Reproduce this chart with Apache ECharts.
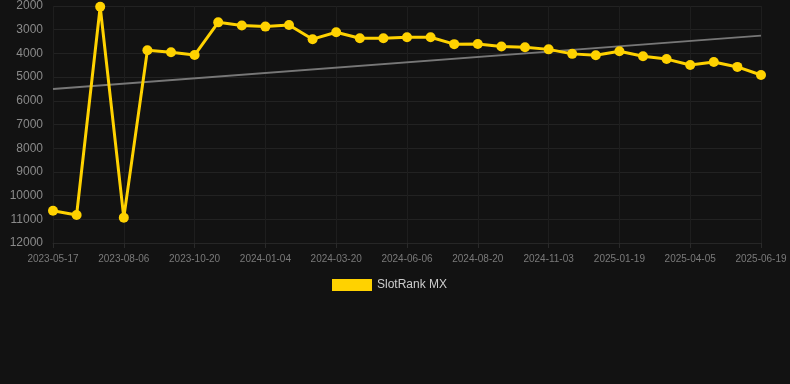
<!DOCTYPE html>
<html>
<head>
<meta charset="utf-8">
<script src="https://cdn.jsdelivr.net/npm/echarts@6/dist/echarts.min.js"></script>
<style>
html,body{margin:0;padding:0;background:#121212;}
#chart{width:790px;height:384px;}
</style>
</head>
<body>
<div id="chart"></div>
<script>
var categories = [
  "2023-05-17","2023-06-13","2023-07-10","2023-08-06","2023-08-31","2023-09-25",
  "2023-10-20","2023-11-14","2023-12-09","2024-01-04","2024-01-29","2024-02-23",
  "2024-03-20","2024-04-15","2024-05-11","2024-06-06","2024-07-01","2024-07-26",
  "2024-08-20","2024-09-14","2024-10-09","2024-11-03","2024-11-29","2024-12-24",
  "2025-01-19","2025-02-13","2025-03-10","2025-04-05","2025-04-30","2025-05-25",
  "2025-06-19"
];
var rankValues = [
  10640, 10820, 2030, 10930, 3870, 3950,
  4070, 2690, 2820, 2870, 2800, 3400,
  3110, 3360, 3360, 3320, 3320, 3610,
  3600, 3710, 3740, 3830, 4020, 4080,
  3910, 4120, 4240, 4490, 4360, 4570,
  4910
];
var trendStart = 5500;
var trendEnd = 3250;
var yTicks = [2000, 12000, 1000];

var trendValues = categories.map(function (c, i) {
  if (i === 0) return trendStart;
  if (i === categories.length - 1) return trendEnd;
  return null;
});

var chart = echarts.init(document.getElementById('chart'), null, {renderer: 'canvas'});
chart.setOption({
  backgroundColor: '#121212',
  animation: false,
  grid: {left: 53, right: 29, top: 6, bottom: 141, containLabel: false},
  legend: {
    data: [{name: 'SlotRank MX', icon: 'rect'}],
    top: 274,
    left: 327,
    itemWidth: 40,
    itemHeight: 12,
    itemGap: 10,
    textStyle: {color: '#cccccc', fontSize: 12, fontFamily: 'Liberation Sans, Arial, sans-serif'}
  },
  xAxis: {
    type: 'category',
    data: categories,
    boundaryGap: false,
    axisLine: {show: true, lineStyle: {color: '#262626'}},
    axisTick: {show: true, interval: 2, length: 5, lineStyle: {color: '#2a2a2a'}},
    axisLabel: {
      interval: 2, color: '#7a7a7a', fontSize: 10, margin: 11,
      fontFamily: 'Liberation Sans, Arial, sans-serif'
    },
    splitLine: {show: true, interval: 2, lineStyle: {color: '#1e1e1e', width: 1}}
  },
  yAxis: {
    type: 'value',
    inverse: true,
    min: yTicks[0],
    max: yTicks[1],
    interval: yTicks[2],
    axisLine: {show: false},
    axisTick: {show: false},
    axisLabel: {
      color: '#8a8a8a', fontSize: 12, margin: 10,
      fontFamily: 'Liberation Sans, Arial, sans-serif',
      formatter: function (v) { return String(v); }
    },
    splitLine: {show: true, lineStyle: {color: '#222222', width: 1}}
  },
  series: [
    {
      name: 'SlotRank MX',
      type: 'line',
      data: rankValues,
      symbol: 'circle',
      symbolSize: 10,
      itemStyle: {color: '#ffd200'},
      lineStyle: {color: '#ffd200', width: 3},
      z: 3
    },
    {
      name: 'trend',
      type: 'line',
      data: trendValues,
      connectNulls: true,
      symbol: 'none',
      lineStyle: {color: '#777777', width: 2},
      z: 2
    }
  ]
});
</script>
</body>
</html>
